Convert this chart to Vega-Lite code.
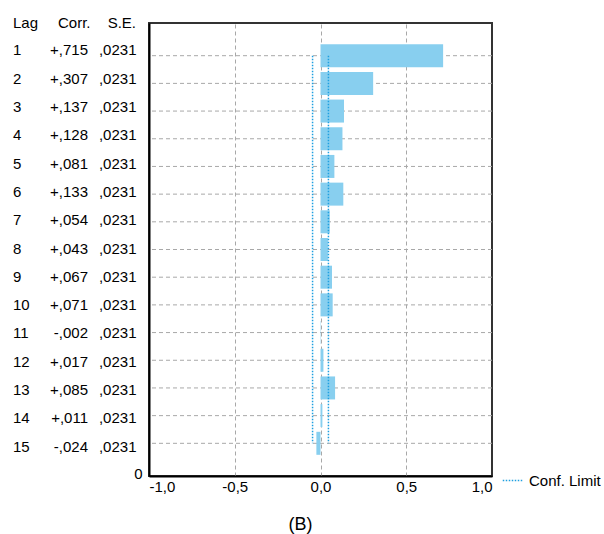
{
  "$schema": "https://vega.github.io/schema/vega-lite/v6.json",
  "padding": {"left": 0, "top": 16, "right": 0, "bottom": 0},
  "autosize": {"type": "pad"},
  "bounds": "flush",
  "spacing": 0,
  "config": {"font": "Liberation Sans", "text": {"font": "Liberation Sans"}},
  "title": {"text": "(B)", "orient": "bottom", "anchor": "middle", "frame": "bounds", "fontSize": 18, "fontWeight": "normal", "color": "#000", "offset": 21},
  "datasets": {
    "acf": [
      {"lag": 1, "corr": 0.715, "corrLabel": "+,715", "se": 0.0231, "seLabel": ",0231", "lcl": -0.0462, "ucl": 0.0462},
      {"lag": 2, "corr": 0.307, "corrLabel": "+,307", "se": 0.0231, "seLabel": ",0231", "lcl": -0.0462, "ucl": 0.0462},
      {"lag": 3, "corr": 0.137, "corrLabel": "+,137", "se": 0.0231, "seLabel": ",0231", "lcl": -0.0462, "ucl": 0.0462},
      {"lag": 4, "corr": 0.128, "corrLabel": "+,128", "se": 0.0231, "seLabel": ",0231", "lcl": -0.0462, "ucl": 0.0462},
      {"lag": 5, "corr": 0.081, "corrLabel": "+,081", "se": 0.0231, "seLabel": ",0231", "lcl": -0.0462, "ucl": 0.0462},
      {"lag": 6, "corr": 0.133, "corrLabel": "+,133", "se": 0.0231, "seLabel": ",0231", "lcl": -0.0462, "ucl": 0.0462},
      {"lag": 7, "corr": 0.054, "corrLabel": "+,054", "se": 0.0231, "seLabel": ",0231", "lcl": -0.0462, "ucl": 0.0462},
      {"lag": 8, "corr": 0.043, "corrLabel": "+,043", "se": 0.0231, "seLabel": ",0231", "lcl": -0.0462, "ucl": 0.0462},
      {"lag": 9, "corr": 0.067, "corrLabel": "+,067", "se": 0.0231, "seLabel": ",0231", "lcl": -0.0462, "ucl": 0.0462},
      {"lag": 10, "corr": 0.071, "corrLabel": "+,071", "se": 0.0231, "seLabel": ",0231", "lcl": -0.0462, "ucl": 0.0462},
      {"lag": 11, "corr": -0.002, "corrLabel": "-,002", "se": 0.0231, "seLabel": ",0231", "lcl": -0.0462, "ucl": 0.0462},
      {"lag": 12, "corr": 0.017, "corrLabel": "+,017", "se": 0.0231, "seLabel": ",0231", "lcl": -0.0462, "ucl": 0.0462},
      {"lag": 13, "corr": 0.085, "corrLabel": "+,085", "se": 0.0231, "seLabel": ",0231", "lcl": -0.0462, "ucl": 0.0462},
      {"lag": 14, "corr": 0.011, "corrLabel": "+,011", "se": 0.0231, "seLabel": ",0231", "lcl": -0.0462, "ucl": 0.0462},
      {"lag": 15, "corr": -0.024, "corrLabel": "-,024", "se": 0.0231, "seLabel": ",0231", "lcl": -0.0462, "ucl": 0.0462}
    ]
  },
  "resolve": {"scale": {"x": "independent", "y": "independent"}},
  "hconcat": [
    {
      "width": 149,
      "height": 453,
      "view": {"stroke": null},
      "data": {"name": "acf"},
      "encoding": {
        "y": {"type": "quantitative", "scale": {"domain": [0, 16], "reverse": true, "nice": false, "zero": false}, "axis": null}
      },
      "layer": [
        {
          "mark": {"type": "text", "align": "left", "baseline": "middle", "fontSize": 15, "color": "#000", "dx": 13, "dy": -1},
          "encoding": {
            "x": {"datum": "Lag", "type": "nominal", "scale": {"type": "point", "domain": ["Lag", "Corr.", "S.E."], "padding": 0}, "axis": null},
            "y": {"field": "lag", "type": "quantitative"},
            "text": {"field": "lag", "type": "quantitative"}
          }
        },
        {
          "mark": {"type": "text", "align": "right", "baseline": "middle", "fontSize": 15, "color": "#000", "dx": 13.5, "dy": -1},
          "encoding": {
            "x": {"datum": "Corr.", "type": "nominal"},
            "y": {"field": "lag", "type": "quantitative"},
            "text": {"field": "corrLabel", "type": "nominal"}
          }
        },
        {
          "mark": {"type": "text", "align": "right", "baseline": "middle", "fontSize": 15, "color": "#000", "dx": -12.5, "dy": -1},
          "encoding": {
            "x": {"datum": "S.E.", "type": "nominal"},
            "y": {"field": "lag", "type": "quantitative"},
            "text": {"field": "seLabel", "type": "nominal"}
          }
        },
        {
          "data": {"values": [{"col": "Lag"}]},
          "mark": {"type": "text", "align": "left", "baseline": "middle", "fontSize": 15, "color": "#000", "dx": 13},
          "encoding": {
            "x": {"field": "col", "type": "nominal"},
            "y": {"datum": 0, "type": "quantitative"},
            "text": {"field": "col", "type": "nominal"}
          }
        },
        {
          "data": {"values": [{"col": "Corr."}]},
          "mark": {"type": "text", "align": "right", "baseline": "middle", "fontSize": 15, "color": "#000", "dx": 16},
          "encoding": {
            "x": {"field": "col", "type": "nominal"},
            "y": {"datum": 0, "type": "quantitative"},
            "text": {"field": "col", "type": "nominal"}
          }
        },
        {
          "data": {"values": [{"col": "S.E."}]},
          "mark": {"type": "text", "align": "right", "baseline": "middle", "fontSize": 15, "color": "#000", "dx": -13},
          "encoding": {
            "x": {"field": "col", "type": "nominal"},
            "y": {"datum": 0, "type": "quantitative"},
            "text": {"field": "col", "type": "nominal"}
          }
        }
      ]
    },
    {
      "width": 343,
      "height": 453,
      "view": {"stroke": "#333", "strokeWidth": 2},
      "data": {"name": "acf"},
      "layer": [
        {
          "mark": {"type": "rule", "color": "#a8a8a8", "strokeWidth": 1, "strokeDash": [4, 3]},
          "encoding": {
            "y": {
              "field": "lag", "type": "quantitative",
              "scale": {"domain": [0, 16], "reverse": true, "nice": false, "zero": false},
              "axis": {
                "values": [16], "labelExpr": "'0'", "title": null, "grid": false, "ticks": false,
                "labelFontSize": 15, "labelColor": "#000", "labelPadding": 7, "labelOffset": 2,
                "domainColor": "#000", "domainWidth": 2
              }
            }
          }
        },
        {
          "mark": {"type": "bar", "orient": "horizontal", "color": "#88CFEF", "size": 23},
          "encoding": {
            "x": {
              "field": "corr", "type": "quantitative",
              "scale": {"domain": [-1, 1], "nice": false},
              "axis": {
                "values": [-1, -0.5, 0, 0.5, 1],
                "labelExpr": "replace(replace(format(datum.value, '.1f'), '.', ','), '−', '-')",
                "title": null,
                "labelFontSize": 15, "labelColor": "#000", "labelPadding": 3,
                "domainColor": "#000", "domainWidth": 2,
                "ticks": false,
                "grid": true, "gridColor": "#a8a8a8", "gridDash": [4, 3], "gridWidth": 1,
                "gridOpacity": {"condition": {"test": "abs(datum.value) == 1", "value": 0}, "value": 1}
              }
            },
            "y": {"field": "lag", "type": "quantitative", "axis": {"title": null}}
          }
        },
        {
          "mark": {"type": "line", "strokeWidth": 1.5, "strokeDash": [1.5, 1.5]},
          "encoding": {
            "x": {"field": "lcl", "type": "quantitative", "axis": {"title": null}},
            "y": {"field": "lag", "type": "quantitative", "axis": {"title": null}},
            "stroke": {
              "datum": "Conf. Limit", "type": "nominal",
              "scale": {"range": ["#1E9FE0"]},
              "legend": {
                "title": null, "orient": "none", "legendX": 502, "legendY": 447,
                "symbolType": "stroke", "symbolSize": 380, "symbolStrokeWidth": 1.5, "symbolDash": [1.5, 1.5],
                "labelFontSize": 15, "labelColor": "#000", "labelOffset": 6
              }
            }
          }
        },
        {
          "mark": {"type": "line", "strokeWidth": 1.5, "strokeDash": [1.5, 1.5]},
          "encoding": {
            "x": {"field": "ucl", "type": "quantitative", "axis": {"title": null}},
            "y": {"field": "lag", "type": "quantitative", "axis": {"title": null}},
            "stroke": {"datum": "Conf. Limit", "type": "nominal"}
          }
        }
      ]
    }
  ]
}
